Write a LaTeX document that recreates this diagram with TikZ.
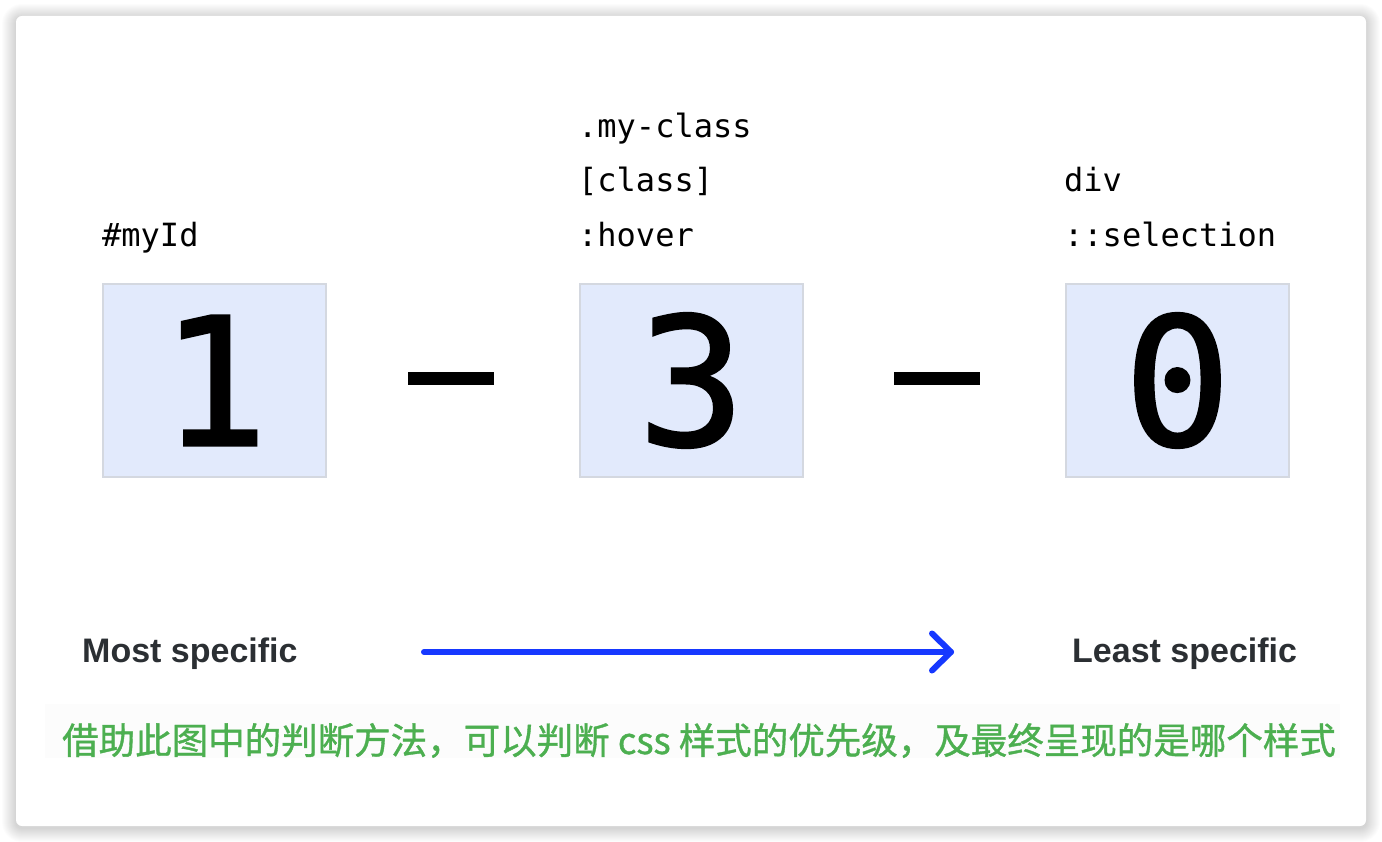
\documentclass[tikz,border=0pt]{standalone}
\usepackage{fontspec}
\setmainfont{Liberation Sans}
\newfontfamily\monofnt{DejaVu Sans Mono}
\newfontfamily\digitfnt[FakeBold=1.5]{DejaVu Sans Mono}
\newfontfamily\cjkfnt[FakeBold=1]{Noto Sans CJK SC}
\usetikzlibrary{calc}
\definecolor{boxfill}{RGB}{226,234,252}
\definecolor{boxline}{RGB}{212,216,224}
\definecolor{arrowblue}{RGB}{22,56,255}
\definecolor{notegreen}{RGB}{76,175,80}
\definecolor{labeldark}{RGB}{43,47,51}
\definecolor{bandgray}{RGB}{252,252,252}
\tikzset{
  numbox/.style={draw=boxline, line width=2pt, fill=boxfill, minimum width=223pt, minimum height=192pt, inner sep=0pt,
    font=\digitfnt\fontsize{178}{200}\selectfont, text=black},
  sellabel/.style={anchor=base west, inner sep=0pt, font=\monofnt\fontsize{32}{38}\selectfont, text=black},
  dashbar/.style={fill=black, draw=none, minimum width=86pt, minimum height=12pt, inner sep=0pt},
  endlabel/.style={anchor=base west, inner sep=0pt, font=\bfseries\fontsize{34}{40}\selectfont, text=labeldark},
  note/.style={anchor=base west, inner sep=0pt, font=\cjkfnt\fontsize{36.5}{42}\selectfont, text=notegreen},
  blueline/.style={draw=arrowblue, line width=6pt, line cap=round, line join=round}
}
\begin{document}
\begin{tikzpicture}[x=1pt,y=-1pt]
\useasboundingbox (0,0) rectangle (1382,842);
\fill[white] (0,0) rectangle (1382,842);
% shadow of the card
\foreach \i in {1,...,14}{
  \fill[black, opacity=0.011, rounded corners={6pt+\i pt}] (16-\i,16-\i+2) rectangle (1366+\i,826+\i+2);
}
\fill[white, rounded corners=6pt] (16,16) rectangle (1366,826);
% faint band behind note
\fill[bandgray] (45,704) rectangle (1340,758);
% number boxes
\node[numbox] (n1) at (214.5,380.5) {1};
\node[numbox] (n2) at (691.5,380.5) {3};
\node[numbox] (n3) at (1177.5,380.5) {0};
\node[dashbar] (d1) at (451,378.5) {};
\node[dashbar] (d2) at (936.5,378.5) {};
% selector labels
\node[sellabel] (l1) at (102,247) {\#myId};
\node[sellabel] (l2a) at (578,138) {.my-class};
\node[sellabel] (l2b) at (578,192) {[class]};
\node[sellabel] (l2c) at (578,247) {:hover};
\node[sellabel] (l3a) at (1064,192) {div};
\node[sellabel] (l3b) at (1064,247) {::selection};
% specificity labels and arrow
\node[endlabel] (most) at (82,662) {Most specific};
\node[endlabel] (least) at (1072,662) {Least specific};
\coordinate (as) at (424,652);
\coordinate (ae) at (951,652);
\draw[blueline] (as) -- (ae);
\draw[blueline] ($(ae)+(-19,-18.5)$) -- (ae) -- ($(ae)+(-19,18.5)$);
% note
\node[note] (txt) at (62,754) {借助此图中的判断方法，可以判断 css 样式的优先级，及最终呈现的是哪个样式};
\end{tikzpicture}
\end{document}
